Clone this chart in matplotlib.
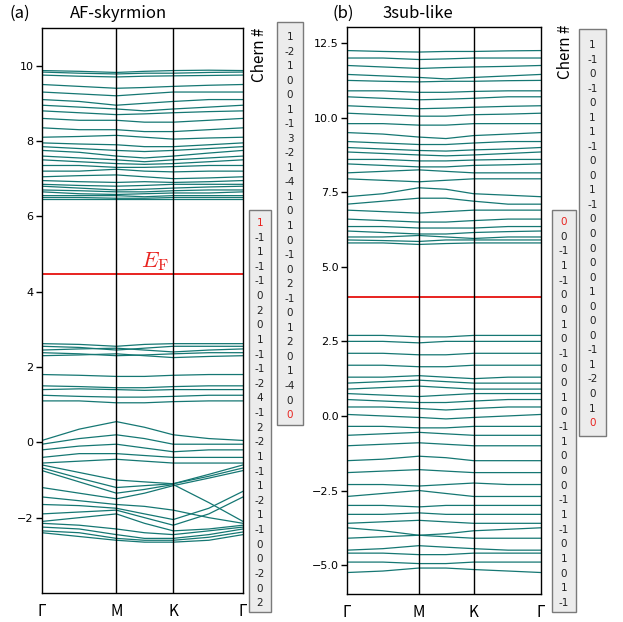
import numpy as np
import matplotlib
matplotlib.use("Agg")
import matplotlib.pyplot as plt
from matplotlib.patches import Rectangle

plt.rcParams['font.family'] = ['Noto Sans CJK JP', 'DejaVu Sans']
plt.rcParams['mathtext.fontset'] = 'cm'

W, H = 623, 622

# k-path nodes (fraction of path length)
knodes = [0, 0.185, 0.37, 0.51, 0.653, 0.83, 1.0]
kticks = [0, 0.37, 0.653, 1.0]
klabels = ['Γ', 'M', 'K', 'Γ']

# (a) AF-skyrmion, bands above the gap
a_up = [
    [9.87, 9.85, 9.82, 9.85, 9.87, 9.88, 9.87],
    [9.83, 9.80, 9.78, 9.80, 9.80, 9.82, 9.83],
    [9.75, 9.72, 9.70, 9.72, 9.73, 9.74, 9.75],
    [9.50, 9.45, 9.40, 9.42, 9.45, 9.48, 9.50],
    [9.30, 9.25, 9.20, 9.25, 9.30, 9.30, 9.30],
    [9.10, 9.05, 8.95, 9.00, 9.05, 9.10, 9.10],
    [8.95, 8.90, 8.85, 8.80, 8.85, 8.90, 8.95],
    [8.80, 8.75, 8.70, 8.72, 8.75, 8.78, 8.80],
    [8.60, 8.55, 8.55, 8.50, 8.50, 8.55, 8.60],
    [8.35, 8.30, 8.30, 8.25, 8.25, 8.30, 8.35],
    [8.10, 8.12, 8.15, 8.10, 8.05, 8.08, 8.10],
    [7.95, 7.92, 7.90, 7.85, 7.85, 7.90, 7.95],
    [7.85, 7.80, 7.75, 7.72, 7.75, 7.80, 7.85],
    [7.75, 7.70, 7.60, 7.55, 7.60, 7.68, 7.75],
    [7.60, 7.55, 7.50, 7.45, 7.50, 7.55, 7.60],
    [7.50, 7.45, 7.40, 7.38, 7.40, 7.45, 7.50],
    [7.35, 7.35, 7.30, 7.30, 7.32, 7.35, 7.35],
    [7.20, 7.20, 7.25, 7.20, 7.18, 7.20, 7.20],
    [7.05, 7.08, 7.10, 7.05, 7.00, 7.02, 7.05],
    [6.95, 6.92, 6.90, 6.92, 6.90, 6.92, 6.95],
    [6.85, 6.82, 6.80, 6.82, 6.85, 6.85, 6.85],
    [6.80, 6.75, 6.70, 6.72, 6.75, 6.78, 6.80],
    [6.70, 6.68, 6.65, 6.65, 6.68, 6.70, 6.70],
    [6.65, 6.60, 6.58, 6.60, 6.62, 6.62, 6.65],
    [6.55, 6.55, 6.55, 6.52, 6.55, 6.55, 6.55],
    [6.50, 6.50, 6.48, 6.48, 6.50, 6.50, 6.50],
    [6.45, 6.45, 6.45, 6.45, 6.45, 6.45, 6.45],
]
# (a) bands below the gap
a_dn = [
    [2.62, 2.60, 2.55, 2.60, 2.62, 2.62, 2.62],
    [2.55, 2.52, 2.45, 2.50, 2.55, 2.55, 2.55],
    [2.45, 2.48, 2.50, 2.45, 2.40, 2.45, 2.48],
    [2.38, 2.35, 2.30, 2.32, 2.35, 2.38, 2.38],
    [2.30, 2.32, 2.35, 2.30, 2.25, 2.28, 2.30],
    [1.80, 1.78, 1.75, 1.75, 1.78, 1.80, 1.80],
    [1.50, 1.48, 1.45, 1.45, 1.48, 1.50, 1.50],
    [1.40, 1.42, 1.40, 1.38, 1.40, 1.40, 1.40],
    [1.25, 1.22, 1.20, 1.20, 1.22, 1.25, 1.25],
    [1.10, 1.10, 1.05, 1.05, 1.08, 1.10, 1.10],
    [0.05, 0.35, 0.55, 0.40, 0.20, 0.10, 0.05],
    [-0.05, 0.10, 0.20, 0.10, -0.05, -0.05, -0.05],
    [-0.20, -0.10, -0.05, -0.15, -0.25, -0.20, -0.20],
    [-0.40, -0.30, -0.30, -0.35, -0.40, -0.40, -0.40],
    [-0.55, -0.50, -0.45, -0.50, -0.55, -0.55, -0.55],
    [-0.60, -0.80, -1.00, -1.05, -1.10, -0.85, -0.60],
    [-0.68, -0.95, -1.20, -1.15, -1.10, -0.90, -0.68],
    [-0.75, -1.05, -1.35, -1.25, -1.12, -1.60, -2.10],
    [-1.20, -1.35, -1.50, -1.35, -1.15, -0.95, -0.75],
    [-1.45, -1.55, -1.65, -1.70, -1.80, -2.00, -2.15],
    [-1.65, -1.68, -1.75, -1.90, -2.05, -1.75, -1.30],
    [-1.90, -1.85, -1.80, -2.00, -2.20, -1.90, -1.45],
    [-2.10, -2.00, -1.90, -2.15, -2.35, -2.30, -2.20],
    [-2.15, -2.20, -2.30, -2.40, -2.45, -2.35, -2.25],
    [-2.25, -2.30, -2.45, -2.55, -2.55, -2.45, -2.30],
    [-2.35, -2.40, -2.55, -2.60, -2.60, -2.52, -2.38],
    [-2.40, -2.50, -2.60, -2.65, -2.65, -2.60, -2.45],
]
# (b) 3sub-like, bands above the gap
b_up = [
    [12.25, 12.22, 12.20, 12.22, 12.22, 12.24, 12.25],
    [12.00, 12.00, 11.95, 11.97, 12.00, 12.00, 12.00],
    [11.75, 11.70, 11.65, 11.68, 11.70, 11.72, 11.75],
    [11.45, 11.40, 11.35, 11.30, 11.35, 11.40, 11.45],
    [11.25, 11.22, 11.20, 11.22, 11.22, 11.24, 11.25],
    [10.90, 10.90, 10.85, 10.85, 10.88, 10.90, 10.90],
    [10.70, 10.65, 10.60, 10.62, 10.65, 10.70, 10.70],
    [10.40, 10.35, 10.30, 10.32, 10.35, 10.38, 10.40],
    [10.15, 10.10, 10.05, 10.05, 10.10, 10.12, 10.15],
    [9.80, 9.80, 9.75, 9.75, 9.80, 9.80, 9.80],
    [9.50, 9.45, 9.35, 9.30, 9.40, 9.45, 9.50],
    [9.20, 9.15, 9.10, 9.10, 9.15, 9.20, 9.20],
    [9.00, 8.95, 8.90, 8.88, 8.92, 8.95, 9.00],
    [8.85, 8.80, 8.75, 8.72, 8.75, 8.80, 8.85],
    [8.60, 8.60, 8.55, 8.55, 8.58, 8.60, 8.60],
    [8.45, 8.40, 8.35, 8.35, 8.40, 8.42, 8.45],
    [8.15, 8.20, 8.25, 8.20, 8.15, 8.15, 8.15],
    [7.95, 7.90, 7.85, 7.90, 7.95, 7.95, 7.95],
    [7.35, 7.45, 7.65, 7.60, 7.45, 7.40, 7.35],
    [7.10, 7.20, 7.30, 7.30, 7.20, 7.10, 7.10],
    [6.90, 6.85, 6.80, 6.85, 6.90, 6.90, 6.90],
    [6.60, 6.55, 6.50, 6.50, 6.55, 6.60, 6.60],
    [6.35, 6.35, 6.30, 6.30, 6.30, 6.35, 6.35],
    [6.20, 6.15, 6.10, 6.10, 6.15, 6.18, 6.20],
    [6.00, 6.00, 6.05, 6.00, 5.95, 6.00, 6.00],
    [5.90, 5.88, 5.85, 5.90, 5.90, 5.90, 5.90],
    [5.80, 5.80, 5.75, 5.78, 5.80, 5.80, 5.80],
]
# (b) bands below the gap
b_dn = [
    [2.70, 2.70, 2.65, 2.65, 2.70, 2.70, 2.70],
    [2.50, 2.50, 2.45, 2.50, 2.50, 2.50, 2.50],
    [2.10, 2.10, 2.05, 2.05, 2.10, 2.10, 2.10],
    [1.70, 1.70, 1.65, 1.65, 1.70, 1.70, 1.70],
    [1.30, 1.30, 1.35, 1.30, 1.25, 1.30, 1.30],
    [1.10, 1.15, 1.20, 1.15, 1.10, 1.10, 1.10],
    [0.90, 0.95, 1.00, 0.95, 0.90, 0.90, 0.90],
    [0.75, 0.70, 0.65, 0.70, 0.75, 0.75, 0.75],
    [0.55, 0.50, 0.45, 0.45, 0.50, 0.55, 0.55],
    [0.30, 0.30, 0.25, 0.20, 0.25, 0.30, 0.30],
    [0.05, 0.00, -0.05, -0.10, -0.05, 0.00, 0.05],
    [-0.35, -0.35, -0.40, -0.40, -0.35, -0.35, -0.35],
    [-0.65, -0.60, -0.55, -0.60, -0.65, -0.65, -0.65],
    [-1.00, -0.95, -0.90, -0.95, -1.00, -1.00, -1.00],
    [-1.50, -1.45, -1.35, -1.40, -1.50, -1.50, -1.50],
    [-1.90, -1.85, -1.80, -1.85, -1.90, -1.90, -1.90],
    [-2.30, -2.30, -2.35, -2.30, -2.25, -2.30, -2.30],
    [-2.70, -2.60, -2.50, -2.60, -2.70, -2.70, -2.70],
    [-3.00, -3.00, -3.05, -3.00, -3.00, -3.00, -3.00],
    [-3.30, -3.30, -3.25, -3.30, -3.30, -3.30, -3.30],
    [-3.60, -3.55, -3.50, -3.55, -3.60, -3.60, -3.60],
    [-3.75, -3.85, -4.00, -3.95, -3.85, -3.80, -3.75],
    [-4.10, -4.05, -4.00, -4.05, -4.10, -4.10, -4.10],
    [-4.50, -4.45, -4.35, -4.40, -4.45, -4.50, -4.50],
    [-4.60, -4.60, -4.65, -4.65, -4.60, -4.60, -4.60],
    [-4.90, -4.90, -4.95, -4.95, -4.90, -4.90, -4.90],
    [-5.25, -5.20, -5.10, -5.10, -5.15, -5.20, -5.25],
]

# Chern numbers, top to bottom
chern_a_up = [1, -2, 1, 0, 0, 1, -1, 3, -2, 1, -4, 1, 0, 1, 0, -1, 0, 2, -1, 0, 1, 2, 0, 1, -4, 0, 0]
chern_a_dn = [1, -1, 1, -1, -1, 0, 2, 0, 1, -1, -1, -2, 4, -1, 2, -2, 1, -1, 1, -2, 1, -1, 0, 0, -2, 0, 2]
chern_b_up = [1, -1, 0, -1, 0, 1, 1, -1, 0, 0, 1, -1, 0, 0, 0, 0, 0, 1, 0, 0, 0, -1, 1, -2, 0, 1, 0]
chern_b_dn = [0, 0, -1, 1, -1, 0, 0, 1, 0, -1, 0, 0, 1, 0, -1, 1, 0, 0, 0, -1, 1, -1, 0, 1, 0, 1, -1]

a_yticks = [10, 8, 6, 4, 2, 0, -2]
b_yticks = [12.5, 10.0, 7.5, 5.0, 2.5, 0.0, -2.5, -5.0]
ef_a = 4.47
ef_b = 4.0

teal = '#157773'


def fx(x):
    return x / W


def fy(y):
    return 1 - y / H


fig = plt.figure(figsize=(W / 100, H / 100), dpi=100)


def panel(rect, up, dn, ylim, yticks, ylabels, ef):
    ax = fig.add_axes(rect)
    for b in up + dn:
        ax.plot(knodes, b, color=teal, lw=0.9)
    ax.axhline(ef, color='#e8231f', lw=1.4)
    for k in kticks[1:-1]:
        ax.axvline(k, color='black', lw=1.0)
    ax.set_xlim(0, 1)
    ax.set_ylim(*ylim)
    ax.set_xticks(kticks)
    ax.set_xticklabels(klabels, fontsize=11)
    ax.tick_params(axis='x', length=0, pad=7)
    ax.set_yticks(yticks)
    ax.set_yticklabels(ylabels, fontsize=8, family='DejaVu Sans')
    ax.tick_params(axis='y', length=4, width=1, pad=2)
    for s in ax.spines.values():
        s.set_linewidth(1.0)
    return ax


ax1 = panel([fx(42), fy(593), fx(243 - 42), (593 - 28) / H], a_up, a_dn,
            (-4, 11), a_yticks, ['10', '8', '6', '4', '2', '0', '−2'], ef_a)
ax1.text(0.56, 4.8, r'$E_{\mathrm{F}}$', color='#e8231f', fontsize=16,
         ha='center', va='center')

ax2 = panel([fx(347), fy(594), fx(541 - 347), (594 - 27) / H], b_up, b_dn,
            (-5.97, 13.04), b_yticks, ['12.5', '10.0', '7.5', '5.0', '2.5', '0.0', '−2.5', '−5.0'], ef_b)

# titles
fig.text(fx(10), fy(13), '(a)', fontsize=12, va='center')
fig.text(fx(70), fy(13), 'AF-skyrmion', fontsize=12, va='center')
fig.text(fx(333), fy(13), '(b)', fontsize=12, va='center')
fig.text(fx(382), fy(13), '3sub-like', fontsize=12, va='center')


def chern_box(x0, x1, y0, y1, vals, first, step, red_idx):
    fig.patches.append(Rectangle((fx(x0), fy(y1)), fx(x1 - x0), (y1 - y0) / H,
                                 transform=fig.transFigure, facecolor='#ececec',
                                 edgecolor='#7a7a7a', lw=1.0))
    xc = (x0 + x1) / 2
    for i, v in enumerate(vals):
        c = '#e8231f' if i == red_idx else '#222222'
        fig.text(fx(xc), fy(first + i * step), str(v), fontsize=7.5,
                 ha='center', va='center', color=c, family='DejaVu Sans')


chern_box(277, 303, 22, 425, chern_a_up, 37, 14.54, len(chern_a_up) - 1)
chern_box(249, 271, 210, 612, chern_a_dn, 223, 14.62, 0)
chern_box(579, 606, 29, 436, chern_b_up, 45, 14.54, len(chern_b_up) - 1)
chern_box(552, 576, 210, 612, chern_b_dn, 222, 14.65, 0)

fig.text(fx(260), fy(55), 'Chern #', fontsize=11, rotation=90, ha='center', va='center')
fig.text(fx(566), fy(52), 'Chern #', fontsize=11, rotation=90, ha='center', va='center')

fig.savefig('out.png', dpi=100)
